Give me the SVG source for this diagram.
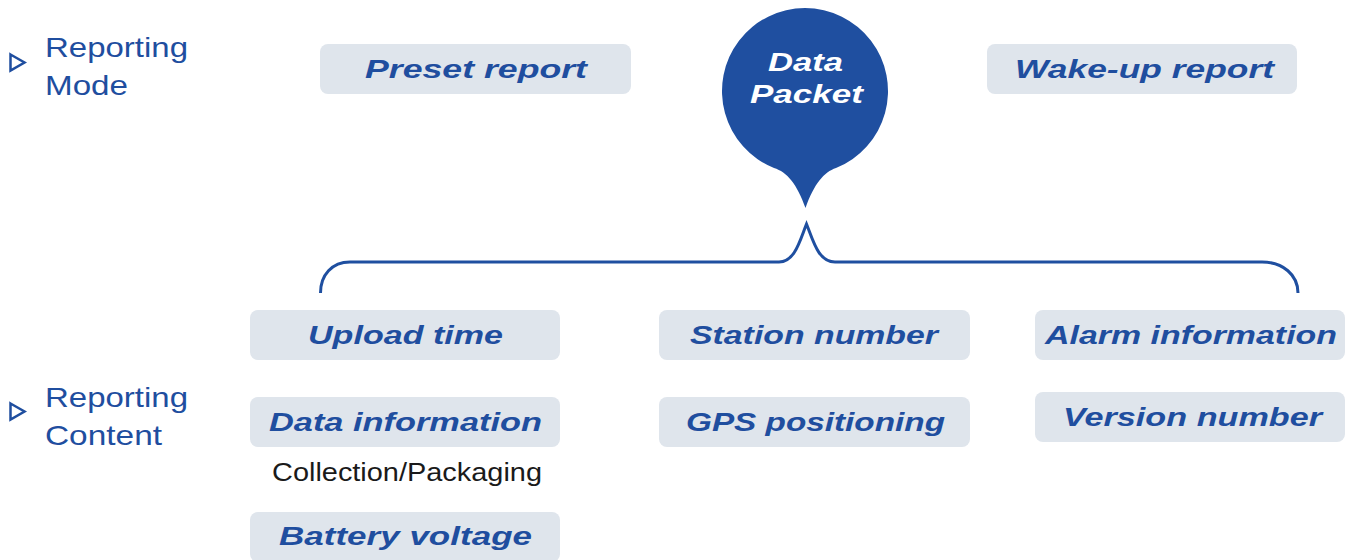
<svg xmlns="http://www.w3.org/2000/svg" width="1355" height="560" viewBox="0 0 1355 560">
<style>
.box{fill:#dfe5ec}
.lbl{font-family:"Liberation Sans",Arial,sans-serif;font-weight:bold;font-style:italic;font-size:26px;fill:#1f4e9f;text-anchor:middle}
.side{font-family:"Liberation Sans",Arial,sans-serif;font-size:28px;fill:#1f4e9f}
.tri{fill:none;stroke:#1f4e9f;stroke-width:2.5;stroke-linejoin:miter}
.note{font-family:"Liberation Sans",Arial,sans-serif;font-size:25px;fill:#1a1a1a;text-anchor:middle}
.bub{font-family:"Liberation Sans",Arial,sans-serif;font-weight:bold;font-style:italic;font-size:26px;fill:#ffffff;text-anchor:middle}
</style>
<rect width="1355" height="560" fill="#ffffff"/>
<g id="side-mode">
<polygon class="tri" points="10.5,54.5 24.5,62.5 10.5,70.5"/>
<text class="side" x="45" y="57" textLength="143" lengthAdjust="spacingAndGlyphs">Reporting</text>
<text class="side" x="45" y="95" textLength="83" lengthAdjust="spacingAndGlyphs">Mode</text>
</g>
<g id="side-content">
<polygon class="tri" points="10.5,403.5 24.5,411.5 10.5,419.5"/>
<text class="side" x="45" y="407" textLength="143" lengthAdjust="spacingAndGlyphs">Reporting</text>
<text class="side" x="45" y="445" textLength="117" lengthAdjust="spacingAndGlyphs">Content</text>
</g>
<g id="data-packet">
<path d="M774 168 A83 83 0 1 1 836 168 C824 172 814 184 805.5 208 C797 184 787 172 774 168 Z" fill="#1f4fa0"/>
<text class="bub" x="805.5" y="71" textLength="75" lengthAdjust="spacingAndGlyphs">Data</text>
<text class="bub" x="806.5" y="103" textLength="113" lengthAdjust="spacingAndGlyphs">Packet</text>
</g>
<g id="connectors">
<path d="M320.5 293 C320.5 275 332 262 350 262 H779 C795 262 800 240 806.5 224 C813 240 818 262 835 262 H1262 C1283 262 1298 275 1298 293" fill="none" stroke="#1f4fa0" stroke-width="3"/>
</g>
<g id="preset-report">
<rect class="box" x="320" y="44" width="311" height="50" rx="8"/>
<text class="lbl" x="476" y="78" textLength="222" lengthAdjust="spacingAndGlyphs">Preset report</text>
</g>
<g id="wake-up-report">
<rect class="box" x="987" y="44" width="310" height="50" rx="8"/>
<text class="lbl" x="1144.5" y="78" textLength="259" lengthAdjust="spacingAndGlyphs">Wake-up report</text>
</g>
<g id="upload-time">
<rect class="box" x="250" y="310" width="310" height="50" rx="8"/>
<text class="lbl" x="405.5" y="344" textLength="195" lengthAdjust="spacingAndGlyphs">Upload time</text>
</g>
<g id="station-number">
<rect class="box" x="659" y="310" width="311" height="50" rx="8"/>
<text class="lbl" x="814" y="344" textLength="248" lengthAdjust="spacingAndGlyphs">Station number</text>
</g>
<g id="alarm-information">
<rect class="box" x="1035" y="310" width="310" height="50" rx="8"/>
<text class="lbl" x="1191" y="344" textLength="292" lengthAdjust="spacingAndGlyphs">Alarm information</text>
</g>
<g id="data-information">
<rect class="box" x="250" y="397" width="310" height="50" rx="8"/>
<text class="lbl" x="405.5" y="431" textLength="273" lengthAdjust="spacingAndGlyphs">Data information</text>
<text class="note" x="407" y="481" textLength="270" lengthAdjust="spacingAndGlyphs">Collection/Packaging</text>
</g>
<g id="gps-positioning">
<rect class="box" x="659" y="397" width="311" height="50" rx="8"/>
<text class="lbl" x="815.5" y="431" textLength="259" lengthAdjust="spacingAndGlyphs">GPS positioning</text>
</g>
<g id="version-number">
<rect class="box" x="1035" y="392" width="310" height="50" rx="8"/>
<text class="lbl" x="1192.5" y="426" textLength="259" lengthAdjust="spacingAndGlyphs">Version number</text>
</g>
<g id="battery-voltage">
<rect class="box" x="250" y="512" width="310" height="50" rx="8"/>
<text class="lbl" x="405.5" y="545" textLength="253" lengthAdjust="spacingAndGlyphs">Battery voltage</text>
</g>
</svg>
